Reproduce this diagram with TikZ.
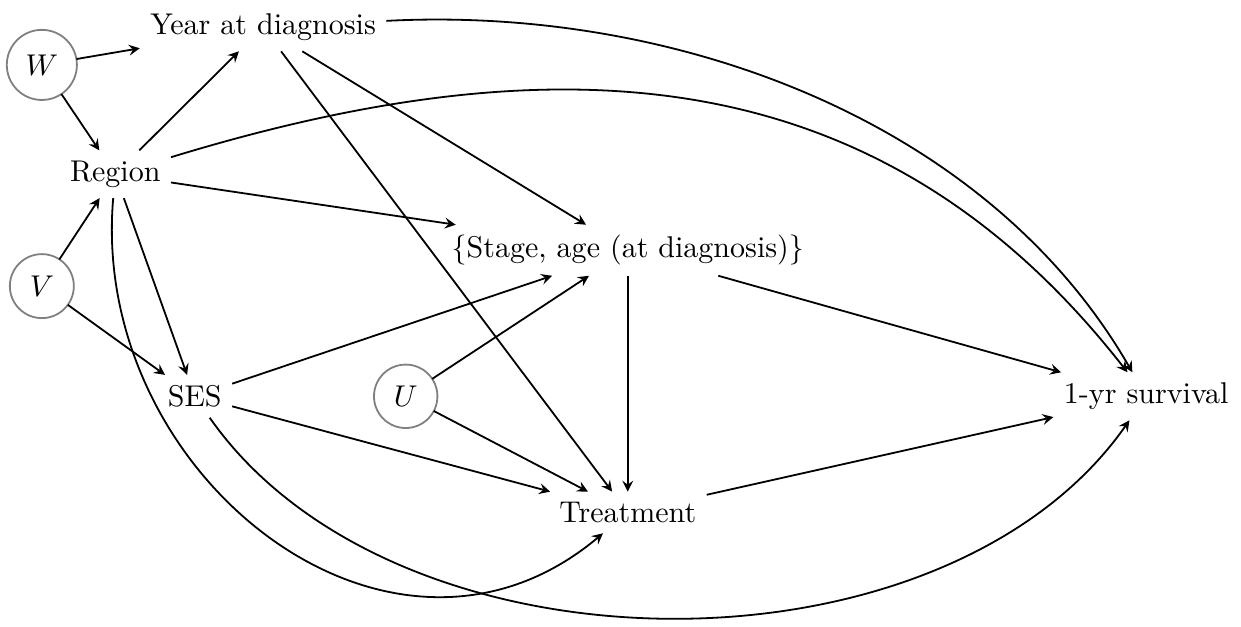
\documentclass[tikz,border=0pt]{standalone}
\usetikzlibrary{positioning}
\begin{document}
\begin{tikzpicture}[var/.style={inner sep=3.5pt, outer sep=0}, lat/.style={circle, draw=gray, semithick, inner sep=3.8pt, outer sep=0}, >=stealth, semithick]
  \useasboundingbox (0,0) rectangle (14.53,7.33);

  \node[lat] at (0.49,6.57) (w) {$W$};
  \node[var] at (3.08,7.01) (year) {Year at diagnosis};
  \node[var] at (1.35,5.29) (region) {Region};
  \node[lat] at (0.49,3.98) (v) {$V$};
  \node[var] at (2.28,2.69) (ses) {SES};
  \node[lat] at (4.75,2.69) (u) {$U$};
  \node[var] at (7.35,4.40) (stage) {\{Stage, age (at diagnosis)\}};
  \node[var] at (7.35,1.33) (treat) {Treatment};
  \node[var] at (13.42,2.69) (surv) {1-yr survival};

  \draw[->] (w) -- (year);
  \draw[->] (w) -- (region);
  \draw[->] (v) -- (region);
  \draw[->] (v) -- (ses);
  \draw[->] (region) -- (year);
  \draw[->] (region) -- (stage);
  \draw[->] (region) -- (ses);
  \draw[->] (region) to[out=-95, in=220, looseness=1.2] (treat);
  \draw[->] (region) to[out=17, in=128, looseness=1.05] (surv);
  \draw[->] (year) to[out=3, in=120, looseness=0.9] (surv);
  \draw[->] (year) -- (stage);
  \draw[->] (year) -- (treat);
  \draw[->] (ses) -- (stage);
  \draw[->] (ses) -- (treat);
  \draw[->] (ses) to[out=-55, in=235, looseness=0.9] (surv);
  \draw[->] (u) -- (stage);
  \draw[->] (u) -- (treat);
  \draw[->] (stage) -- (treat);
  \draw[->] (stage) -- (surv);
  \draw[->] (treat) -- (surv);

\end{tikzpicture}
\end{document}
